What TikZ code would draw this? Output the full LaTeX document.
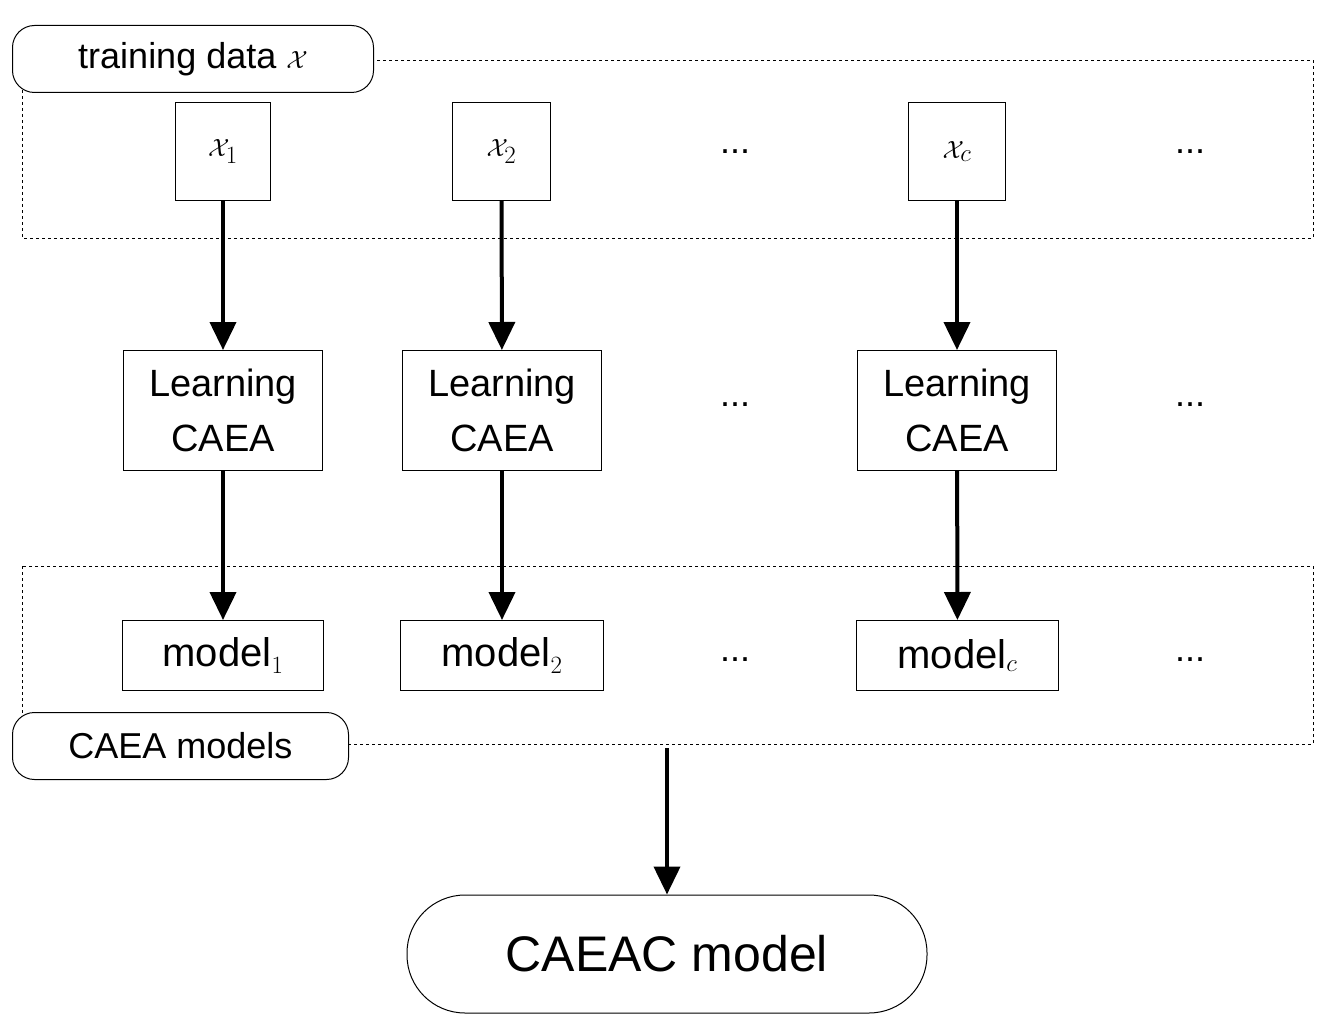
\documentclass[tikz,border=0pt]{standalone}
\usepackage{fontspec}
\setmainfont{Liberation Sans}
\usetikzlibrary{arrows.meta}
\begin{document}
\begin{tikzpicture}[x=1pt,y=-1pt,
 box/.style={draw,line width=1pt,inner sep=0pt,anchor=north west},
 dashbox/.style={draw,dashed,line width=0.6pt},
 lab/.style={draw,line width=1pt,rounded corners=22pt,fill=white,inner sep=0pt,anchor=north west},
 arr/.style={line width=4pt,-{Triangle[length=28pt,width=26pt]}},
 dots/.style={font=\fontsize{36}{40}\selectfont}]
\useasboundingbox (0,0) rectangle (1327,1027);
\draw[dashbox] (22,60) rectangle (1313,238);
\draw[dashbox] (22,566) rectangle (1313,744);
\node[lab,minimum width=361pt,minimum height=67pt,font=\fontsize{36}{40}\selectfont] (td) at (12,25) {training data $\mathcal{X}$};
\node[lab,minimum width=336pt,minimum height=67pt,font=\fontsize{36}{40}\selectfont] (cm) at (12,712) {CAEA models};
\foreach \n/\x/\w/\s in {1/175/95/1,2/452/98/2,c/908/97/c}{
 \node[box,minimum width=\w pt,minimum height=98pt,font=\fontsize{50}{56}\selectfont] (x\n) at (\x,102) {$\mathcal{X}_\s$};}
\foreach \n/\x/\w in {1/123/199,2/402/199,c/857/199}{
 \node[box,minimum width=\w pt,minimum height=120pt,align=center,font=\fontsize{38}{55}\selectfont] (l\n) at (\x,350) {Learning\\CAEA};}
\foreach \n/\x/\w/\s in {1/122/201/1,2/400/203/2,c/856/202/c}{
 \node[box,minimum width=\w pt,minimum height=70pt,font=\fontsize{40}{46}\selectfont] (m\n) at (\x,620) {$\mathrm{model}_\s$};}
\foreach \n in {1,2,c}{
 \draw[arr] (x\n) -- (l\n);
 \draw[arr] (l\n) -- (m\n);}
\foreach \y in {152,405,660}{
 \node[dots] at (735,\y) {...};
 \node[dots] at (1190,\y) {...};}
\node[draw,line width=1pt,rounded corners=58pt,minimum width=520pt,minimum height=118pt,font=\fontsize{50}{56}\selectfont] (cc) at (667,954) {CAEAC model};
\coordinate (s) at (667,748);
\draw[arr] (s) -- (cc.north);
\end{tikzpicture}
\end{document}
